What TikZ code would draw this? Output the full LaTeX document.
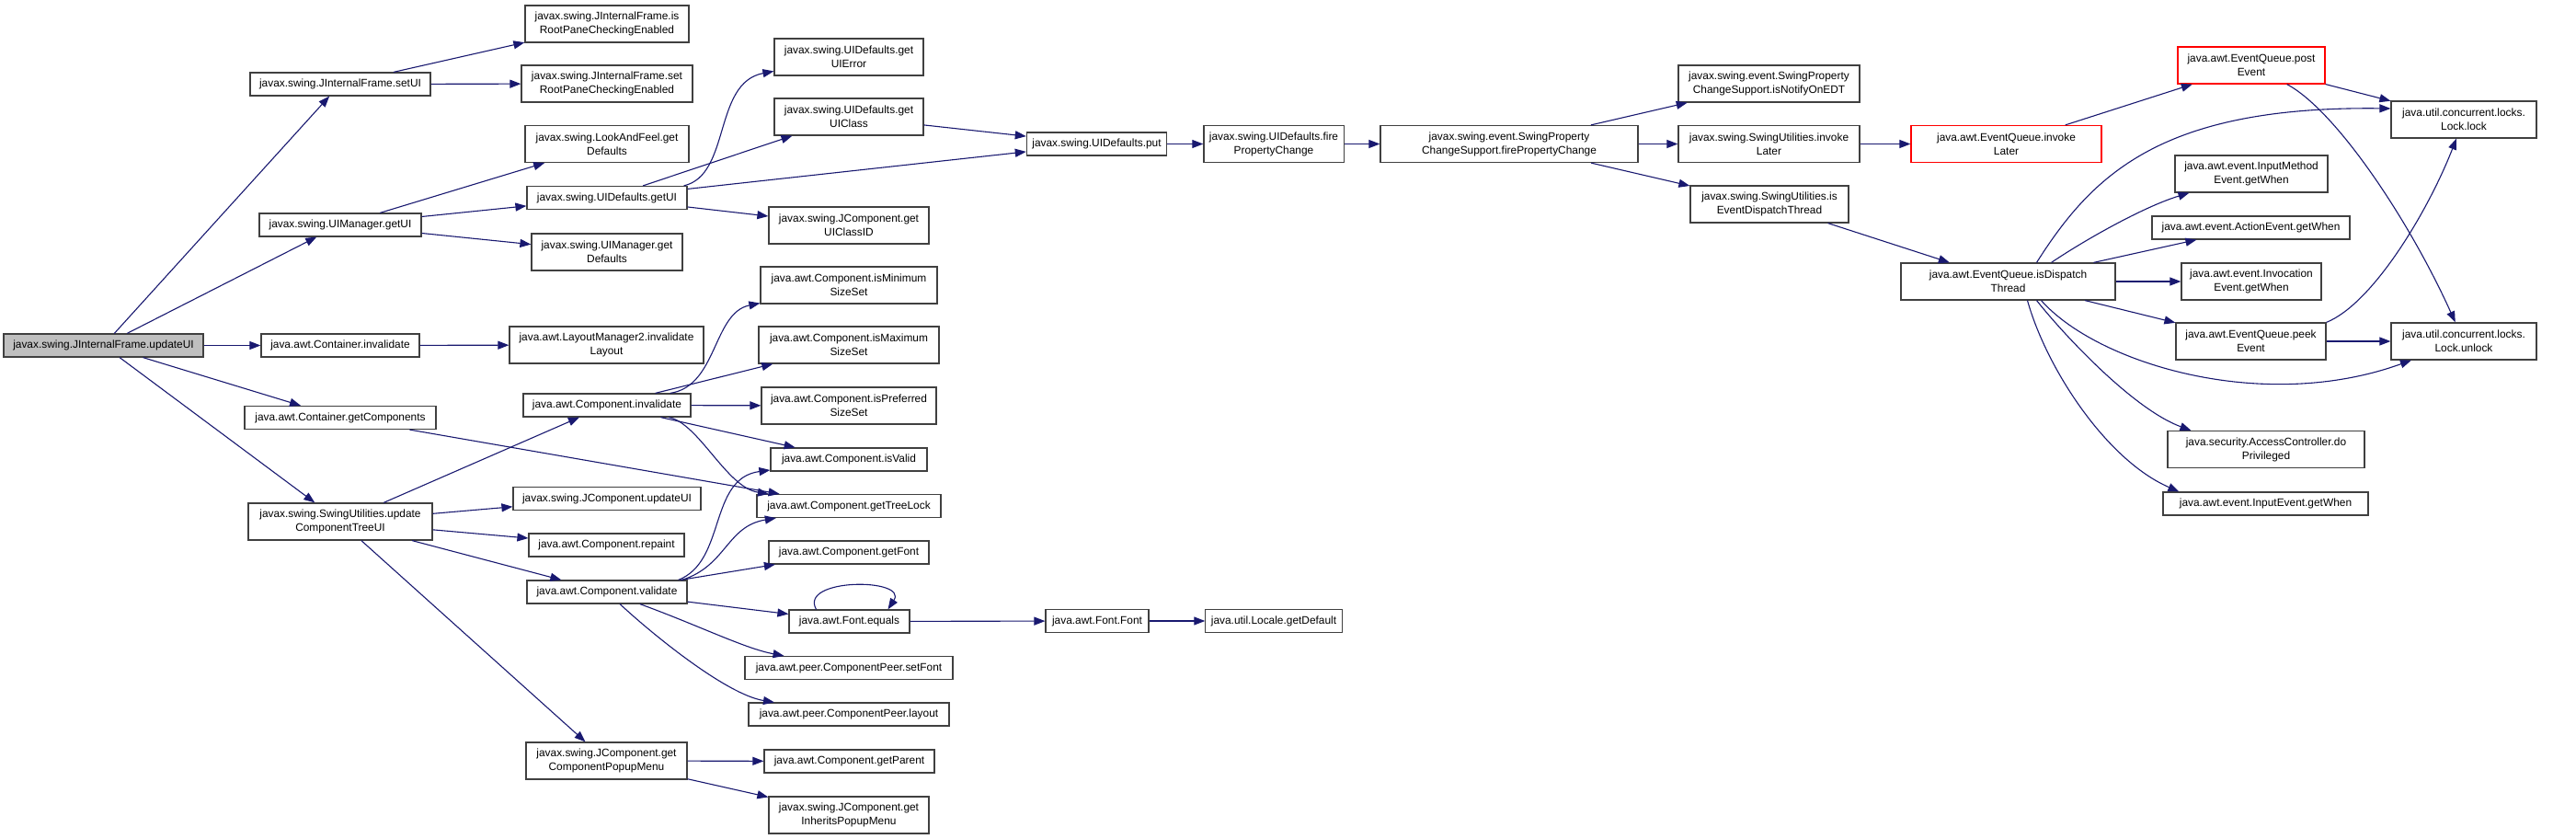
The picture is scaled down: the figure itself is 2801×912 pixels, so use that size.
\documentclass[tikz,border=0pt]{standalone}
\usepackage{fontspec}
\setmainfont{Liberation Sans}
\usepackage{xcolor}
\usepackage{tikz}
\usetikzlibrary{arrows.meta}

\definecolor{edgeblue}{HTML}{191970}

\tikzset{
    fn/.style={draw=black!75, line width=1.2pt, fill=white, rectangle, align=center,
        font=\fontsize{11.9}{15}\selectfont, inner xsep=6pt, inner ysep=1pt, minimum height=25pt},
    fntwo/.style={fn, minimum height=40pt},
    fnroot/.style={fn, fill=black!25},
    fnred/.style={fntwo, draw=red},
    call/.style={draw=edgeblue, line width=1.1pt, -{Triangle[length=12pt,width=9pt]}}
}

\begin{document}
\begin{tikzpicture}[x=1pt, y=-1pt]
    \useasboundingbox (0,0) rectangle (2801,912);

    % Root function
    \node[fnroot, minimum width=217pt] (upd) at (112.5,375.5) {javax.swing.JInternalFrame.updateUI};

    % Direct callees
    \node[fn, minimum width=196pt] (setui) at (370,91.5) {javax.swing.JInternalFrame.setUI};
    \node[fn, minimum width=176pt] (uimgetui) at (370,244.5) {javax.swing.UIManager.getUI};
    \node[fn, minimum width=172pt] (cinval) at (370,375.5) {java.awt.Container.invalidate};
    \node[fn, minimum width=208pt] (cgetcomp) at (370,454) {java.awt.Container.getComponents};
    \node[fntwo, minimum width=200pt] (sutree) at (370,567) {javax.swing.SwingUtilities.update\\ComponentTreeUI};

    % Third column
    \node[fntwo, minimum width=178pt] (isroot) at (660,26) {javax.swing.JInternalFrame.is\\RootPaneCheckingEnabled};
    \node[fntwo, minimum width=186pt] (setroot) at (660,91) {javax.swing.JInternalFrame.set\\RootPaneCheckingEnabled};
    \node[fntwo, minimum width=178pt] (lafdef) at (660,156.5) {javax.swing.LookAndFeel.get\\Defaults};
    \node[fn, minimum width=174pt] (uidgetui) at (660,215) {javax.swing.UIDefaults.getUI};
    \node[fntwo, minimum width=164pt] (uimgetdef) at (660,274) {javax.swing.UIManager.get\\Defaults};
    \node[fntwo, minimum width=211pt] (laylayout) at (659.5,375) {java.awt.LayoutManager2.invalidate\\Layout};
    \node[fn, minimum width=182pt] (compinval) at (660,440.5) {java.awt.Component.invalidate};
    \node[fn, minimum width=204pt] (jupdateui) at (660,542) {javax.swing.JComponent.updateUI};
    \node[fn, minimum width=169pt] (repaint) at (659.5,592.5) {java.awt.Component.repaint};
    \node[fn, minimum width=174pt] (validate) at (660,643.5) {java.awt.Component.validate};
    \node[fntwo, minimum width=175pt] (popup) at (659.5,827) {javax.swing.JComponent.get\\ComponentPopupMenu};

    % Fourth column
    \node[fntwo, minimum width=162pt] (geterror) at (923,62) {javax.swing.UIDefaults.get\\UIError};
    \node[fntwo, minimum width=162pt] (getclass) at (923,127) {javax.swing.UIDefaults.get\\UIClass};
    \node[fntwo, minimum width=174pt] (classid) at (923,245) {javax.swing.JComponent.get\\UIClassID};
    \node[fntwo, minimum width=192pt] (ismin) at (923,310) {java.awt.Component.isMinimum\\SizeSet};
    \node[fntwo, minimum width=196pt] (ismax) at (923,375) {java.awt.Component.isMaximum\\SizeSet};
    \node[fntwo, minimum width=190pt] (ispref) at (923,441) {java.awt.Component.isPreferred\\SizeSet};
    \node[fn, minimum width=170pt] (isvalid) at (923,499.5) {java.awt.Component.isValid};
    \node[fn, minimum width=200pt] (treelock) at (923,550) {java.awt.Component.getTreeLock};
    \node[fn, minimum width=174pt] (getfont) at (923,600.5) {java.awt.Component.getFont};
    \node[fn, minimum width=131pt] (fequals) at (923.5,675.5) {java.awt.Font.equals};
    \node[fn, minimum width=226pt] (setfont) at (923,726) {java.awt.peer.ComponentPeer.setFont};
    \node[fn, minimum width=218pt] (layout) at (923,776.5) {java.awt.peer.ComponentPeer.layout};
    \node[fn, minimum width=185pt] (getparent) at (923.5,827.5) {java.awt.Component.getParent};
    \node[fntwo, minimum width=174pt] (inherits) at (923,886) {javax.swing.JComponent.get\\InheritsPopupMenu};

    % Property change chain
    \node[fn, minimum width=151pt] (put) at (1192.5,156.5) {javax.swing.UIDefaults.put};
    \node[fn, minimum width=112pt] (fontfont) at (1193,675) {java.awt.Font.Font};
    \node[fntwo, minimum width=150pt] (fire) at (1385,156.5) {javax.swing.UIDefaults.fire\\PropertyChange};
    \node[fn, minimum width=148pt] (locale) at (1385,675) {java.util.Locale.getDefault};
    \node[fntwo, minimum width=280pt] (spcs) at (1641,156.5) {javax.swing.event.SwingProperty\\ChangeSupport.firePropertyChange};
    \node[fntwo, minimum width=197pt] (edt) at (1923.5,91) {javax.swing.event.SwingProperty\\ChangeSupport.isNotifyOnEDT};
    \node[fntwo, minimum width=197pt] (invokel) at (1923.5,156.5) {javax.swing.SwingUtilities.invoke\\Later};
    \node[fntwo, minimum width=172pt] (isedt) at (1924,222) {javax.swing.SwingUtilities.is\\EventDispatchThread};

    % Event queue
    \node[fnred, minimum width=207pt] (eqinvoke) at (2181.5,156.5) {java.awt.EventQueue.invoke\\Later};
    \node[fntwo, minimum width=233pt] (isdisp) at (2183.5,306) {java.awt.EventQueue.isDispatch\\Thread};
    \node[fnred, minimum width=160pt] (postev) at (2448,71) {java.awt.EventQueue.post\\Event};
    \node[fntwo, minimum width=166pt] (imeth) at (2448,189) {java.awt.event.InputMethod\\Event.getWhen};
    \node[fn, minimum width=215pt] (action) at (2447.5,247.5) {java.awt.event.ActionEvent.getWhen};
    \node[fntwo, minimum width=152pt] (invoc) at (2448,306) {java.awt.event.Invocation\\Event.getWhen};
    \node[fntwo, minimum width=163pt] (peek) at (2447.5,371) {java.awt.EventQueue.peek\\Event};
    \node[fntwo, minimum width=214pt] (doprev) at (2464,488.5) {java.security.AccessController.do\\Privileged};
    \node[fn, minimum width=223pt] (inputev) at (2463.5,547.5) {java.awt.event.InputEvent.getWhen};
    \node[fntwo, minimum width=158pt] (lock) at (2679,130) {java.util.concurrent.locks.\\Lock.lock};
    \node[fntwo, minimum width=158pt] (unlock) at (2679,371) {java.util.concurrent.locks.\\Lock.unlock};

    % Calls from updateUI
    \draw[call] (upd) -- (setui);
    \draw[call] (upd) -- (uimgetui);
    \draw[call] (upd) -- (cinval);
    \draw[call] (upd) -- (cgetcomp);
    \draw[call] (upd) -- (sutree);

    \draw[call] (setui) -- (isroot);
    \draw[call] (setui) -- (setroot);
    \draw[call] (uimgetui) -- (lafdef);
    \draw[call] (uimgetui) -- (uidgetui);
    \draw[call] (uimgetui) -- (uimgetdef);
    \draw[call] (cinval) -- (laylayout);
    \draw[call] (cgetcomp) -- (treelock);

    \draw[call] (sutree) -- (compinval);
    \draw[call] (sutree) -- (jupdateui);
    \draw[call] (sutree) -- (repaint);
    \draw[call] (sutree) -- (validate);
    \draw[call] (sutree) -- (popup);

    % UIDefaults.getUI
    \draw[call] ([xshift=-4pt]uidgetui.north east) .. controls (795,190) and (775,90) .. (geterror);
    \draw[call] (uidgetui) -- (getclass);
    \draw[call] (uidgetui) -- (classid);
    \draw[call] (uidgetui) -- (put);
    \draw[call] (getclass) -- (put);

    % Component.invalidate
    \draw[call] ([xshift=-23pt]compinval.north east) .. controls (780,420) and (775,340) .. (ismin);
    \draw[call] (compinval) -- (ismax);
    \draw[call] (compinval) -- (ispref);
    \draw[call] (compinval) -- (isvalid);
    \draw[call] (compinval) .. controls (760,460) and (790,530) .. (treelock);

    % Component.validate
    \draw[call] ([xshift=-10pt]validate.north east) .. controls (790,610) and (770,520) .. (isvalid);
    \draw[call] ([xshift=-6pt]validate.north east) .. controls (790,615) and (790,572) .. (treelock);
    \draw[call] (validate) -- (getfont);
    \draw[call] (validate) -- (fequals);
    \draw[call] (validate) .. controls (760,680) and (810,705) .. (setfont);
    \draw[call] (validate) .. controls (710,690) and (790,755) .. (layout);

    \draw[call] ([xshift=-36pt]fequals.north) .. controls (868,628) and (988,628) .. ([xshift=42pt]fequals.north);
    \draw[call] (fequals) -- (fontfont);
    \draw[call] (fontfont) -- (locale);

    \draw[call] (popup) -- (getparent);
    \draw[call] (popup) -- (inherits);

    % Property change chain
    \draw[call] (put) -- (fire);
    \draw[call] (fire) -- (spcs);
    \draw[call] (spcs) -- (edt);
    \draw[call] (spcs) -- (invokel);
    \draw[call] (spcs) -- (isedt);
    \draw[call] (invokel) -- (eqinvoke);
    \draw[call] (isedt) -- (isdisp);
    \draw[call] (eqinvoke) -- (postev);

    % postEvent
    \draw[call] (postev) -- (lock);
    \draw[call] (postev) .. controls (2540,120) and (2620,240) .. (unlock);

    % isDispatchThread
    \draw[call] ([xshift=31pt]isdisp.north) .. controls (2275,190) and (2350,115) .. ([yshift=12pt]lock.west);
    \draw[call] ([xshift=47pt]isdisp.north) .. controls (2265,262) and (2330,225) .. (imeth);
    \draw[call] (isdisp) -- (action);
    \draw[call] (isdisp) -- (invoc);
    \draw[call] (isdisp) -- (peek);
    \draw[call] ([xshift=36pt]isdisp.south) .. controls (2280,395) and (2460,450) .. (unlock);
    \draw[call] ([xshift=31pt]isdisp.south) .. controls (2245,365) and (2320,445) .. ([xshift=26pt]doprev.north west);
    \draw[call] ([xshift=21pt]isdisp.south) .. controls (2225,400) and (2290,500) .. ([xshift=18pt]inputev.north west);

    % peekEvent
    \draw[call] (peek.north east) .. controls (2580,330) and (2640,230) .. (lock);
    \draw[call] (peek) -- (unlock);
\end{tikzpicture}
\end{document}
